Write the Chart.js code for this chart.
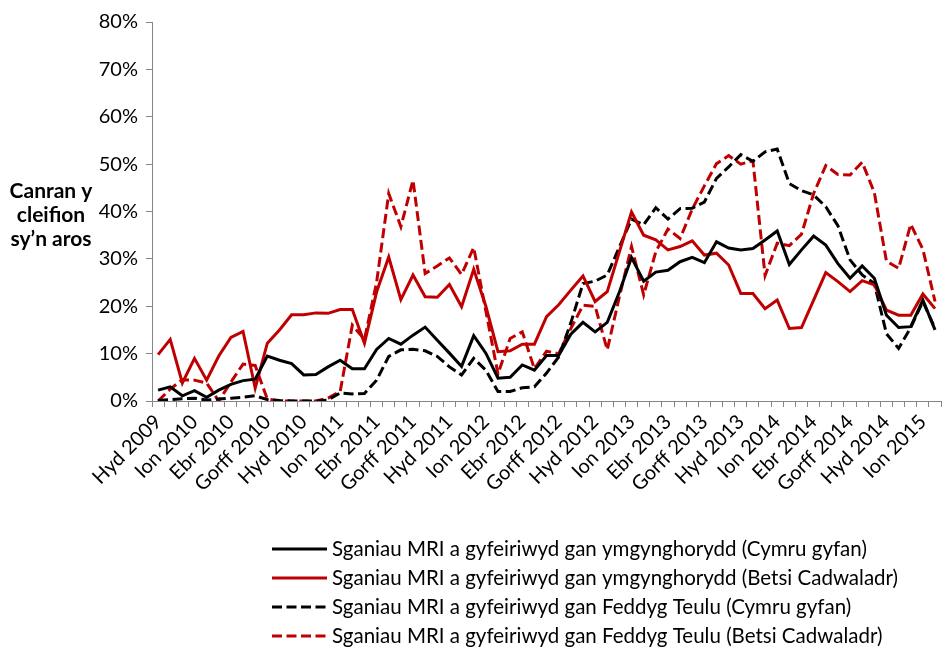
<!DOCTYPE html>
<html lang="cy">
<head>
<meta charset="utf-8">
<title>Sganiau MRI – canran y cleifion sy'n aros</title>
<script src="https://cdn.jsdelivr.net/npm/chart.js@4.4.1/dist/chart.umd.min.js"></script>
<style>
  html, body { margin: 0; padding: 0; background: #ffffff; overflow: hidden; }
  #wrap { width: 949px; height: 650px; overflow: hidden; position: relative; }
  canvas { display: block; }
</style>
</head>
<body>
<div id="wrap"><canvas id="chart" width="955" height="650"></canvas></div>
<script>
// Misoedd (Hydref 2009 – Chwefror 2015)
const categories = [
  'Hyd 2009','Tach 2009','Rhag 2009',
  'Ion 2010','Chwef 2010','Maw 2010','Ebr 2010','Mai 2010','Meh 2010','Gorff 2010','Awst 2010','Medi 2010','Hyd 2010','Tach 2010','Rhag 2010',
  'Ion 2011','Chwef 2011','Maw 2011','Ebr 2011','Mai 2011','Meh 2011','Gorff 2011','Awst 2011','Medi 2011','Hyd 2011','Tach 2011','Rhag 2011',
  'Ion 2012','Chwef 2012','Maw 2012','Ebr 2012','Mai 2012','Meh 2012','Gorff 2012','Awst 2012','Medi 2012','Hyd 2012','Tach 2012','Rhag 2012',
  'Ion 2013','Chwef 2013','Maw 2013','Ebr 2013','Mai 2013','Meh 2013','Gorff 2013','Awst 2013','Medi 2013','Hyd 2013','Tach 2013','Rhag 2013',
  'Ion 2014','Chwef 2014','Maw 2014','Ebr 2014','Mai 2014','Meh 2014','Gorff 2014','Awst 2014','Medi 2014','Hyd 2014','Tach 2014','Rhag 2014',
  'Ion 2015','Chwef 2015'
];

// Canran y cleifion sy'n aros (%)
const ymgynghoryddCymru = [
  2.3, 3.0, 1.1, 2.2, 0.8, 2.3, 3.5, 4.3, 4.6, 9.5, 8.6, 7.9, 5.5,
  5.6, 7.2, 8.6, 6.8, 6.8, 10.9, 13.2, 12.0, 13.9, 15.6, 12.8, 10.1,
  7.3, 13.8, 10.1, 4.8, 5.0, 7.6, 6.5, 9.6, 9.6, 14.1, 16.6, 14.6,
  16.6, 23.0, 30.3, 25.3, 27.2, 27.6, 29.4, 30.3, 29.2, 33.6, 32.3, 31.9,
  32.2, 34.0, 35.9, 28.8, 31.9, 34.8, 32.9, 29.0, 25.9, 28.5, 25.9, 18.1,
  15.5, 15.7, 21.3, 15.0
];
const ymgynghoryddBetsi = [
  9.8, 13.0, 3.8, 9.0, 4.4, 9.5, 13.4, 14.7, 2.7, 12.2, 15.0, 18.2, 18.2,
  18.6, 18.5, 19.3, 19.3, 12.2, 23.0, 30.4, 21.4, 26.6, 22.0, 21.9, 24.6,
  19.9, 27.8, 20.0, 10.4, 10.6, 12.0, 12.0, 17.8, 20.3, 23.4, 26.4, 21.0,
  23.1, 31.5, 39.9, 35.0, 34.0, 31.9, 32.6, 33.8, 30.8, 31.2, 28.7, 22.7,
  22.7, 19.5, 21.3, 15.3, 15.5, 21.3, 27.1, 25.2, 23.1, 25.4, 24.5, 19.2,
  18.1, 18.1, 22.6, 19.5
];
const meddygTeuluCymru = [
  0.1, 0.3, 0.5, 0.6, 0.2, 0.4, 0.6, 0.8, 1.1, 0.3, 0.1, 0.0, 0.0,
  0.0, 0.2, 1.7, 1.5, 1.6, 4.4, 9.4, 10.8, 10.9, 10.6, 9.4, 7.2,
  5.5, 9.0, 6.5, 2.0, 2.0, 2.8, 3.0, 5.9, 9.3, 16.5, 24.8, 25.3,
  26.6, 32.5, 38.4, 37.2, 40.8, 38.4, 40.6, 40.7, 42.0, 47.0, 49.4, 52.0,
  50.6, 52.6, 53.2, 45.9, 44.4, 43.5, 41.0, 37.0, 29.8, 26.6, 24.8, 14.2,
  11.1, 15.5, 21.0, 15.3
];
const meddygTeuluBetsi = [
  0.0, 2.5, 4.5, 4.4, 3.8, 0.0, 4.0, 7.8, 7.5, 0.4, 0.0, 0.0, 0.0,
  0.0, 0.6, 2.0, 16.0, 13.0, 25.0, 43.8, 36.8, 46.6, 26.9, 28.5, 30.2,
  26.7, 32.4, 19.0, 5.7, 13.2, 14.6, 6.8, 10.5, 10.0, 15.3, 20.2, 20.0,
  10.8, 22.0, 32.6, 22.4, 31.5, 36.3, 34.3, 40.5, 45.4, 50.1, 51.8, 50.0,
  50.7, 26.5, 33.3, 32.8, 35.2, 43.8, 49.7, 47.8, 47.7, 50.4, 44.0, 29.5,
  28.0, 37.3, 32.0, 21.0
];

const seriesLabels = [
  'Sganiau MRI a gyfeiriwyd gan ymgynghorydd (Cymru gyfan)',
  'Sganiau MRI a gyfeiriwyd gan ymgynghorydd (Betsi Cadwaladr)',
  'Sganiau MRI a gyfeiriwyd gan Feddyg Teulu (Cymru gyfan)',
  'Sganiau MRI a gyfeiriwyd gan Feddyg Teulu (Betsi Cadwaladr)'
];
const yTitleLines = ['Canran y', 'cleifion', 'sy\u2019n aros'];

const FONT = 'Lato, "Open Sans", sans-serif';
const RED = '#c00000';
const BLACK = '#000000';
const AXIS = '#868686';
const DASH = [10, 4.5];

function line(label, data, color, dash) {
  return {
    label, data,
    borderColor: color, backgroundColor: color,
    borderWidth: 3, borderDash: dash, borderCapStyle: 'butt', borderJoinStyle: 'miter',
    pointRadius: 0, pointHoverRadius: 0, tension: 0, fill: false
  };
}

// Y-axis title drawn horizontally to the left of the value labels
const yTitlePlugin = {
  id: 'yTitle',
  afterDraw(chart) {
    const ctx = chart.ctx;
    ctx.save();
    ctx.font = 'bold 21px ' + FONT;
    ctx.fillStyle = '#000';
    ctx.textAlign = 'center';
    ctx.textBaseline = 'middle';
    const ys = [191, 215, 239];
    yTitleLines.forEach((t, i) => ctx.fillText(t, 51, ys[i]));
    ctx.restore();
  }
};

// Legend listed one series per row beneath the axis
const legendPlugin = {
  id: 'rowLegend',
  afterDraw(chart) {
    const ctx = chart.ctx;
    ctx.save();
    ctx.font = '20.5px ' + FONT;
    ctx.textBaseline = 'middle';
    ctx.textAlign = 'left';
    const x0 = 272, x1 = 327, tx = 332, rowY = [549, 578, 607, 636];
    chart.data.datasets.forEach((ds, i) => {
      const y = rowY[i];
      ctx.beginPath();
      ctx.strokeStyle = ds.borderColor;
      ctx.lineWidth = 3;
      ctx.lineCap = 'butt';
      ctx.setLineDash(ds.borderDash || []);
      ctx.moveTo(x0, y);
      ctx.lineTo(x1, y);
      ctx.stroke();
      ctx.setLineDash([]);
      ctx.fillStyle = '#000';
      ctx.fillText(ds.label, tx, y);
    });
    ctx.restore();
  }
};

new Chart(document.getElementById('chart'), {
  type: 'line',
  data: {
    labels: categories,
    datasets: [
      line(seriesLabels[0], ymgynghoryddCymru, BLACK, []),
      line(seriesLabels[1], ymgynghoryddBetsi, RED, []),
      line(seriesLabels[2], meddygTeuluCymru, BLACK, DASH),
      line(seriesLabels[3], meddygTeuluBetsi, RED, DASH)
    ]
  },
  options: {
    responsive: false,
    animation: false,
    devicePixelRatio: 1,
    layout: { padding: { top: 22, right: 0, bottom: 0, left: 0 } },
    plugins: {
      legend: { display: false },
      tooltip: { enabled: false },
      title: { display: false }
    },
    scales: {
      x: {
        type: 'category',
        offset: true,
        grid: { display: true, drawOnChartArea: false, drawTicks: true, tickLength: 6, offset: true, color: AXIS, lineWidth: 1 },
        border: { display: true, color: AXIS, width: 1 },
        ticks: {
          autoSkip: false, minRotation: 45, maxRotation: 45, padding: 3,
          color: '#000', font: { family: FONT, size: 20 },
          callback: (v, i) => (i % 3 === 0 ? categories[i] : '')
        },
        afterFit: s => { s.height = 249; }
      },
      y: {
        min: 0, max: 80,
        grid: { display: true, drawOnChartArea: false, drawTicks: true, tickLength: 6, color: AXIS, lineWidth: 1 },
        border: { display: true, color: AXIS, width: 1 },
        ticks: {
          stepSize: 10, padding: 8, color: '#000',
          font: { family: FONT, size: 20 },
          callback: v => v + '%'
        },
        afterFit: s => { s.width = 152; }
      }
    }
  },
  plugins: [yTitlePlugin, legendPlugin]
});
</script>
</body>
</html>
